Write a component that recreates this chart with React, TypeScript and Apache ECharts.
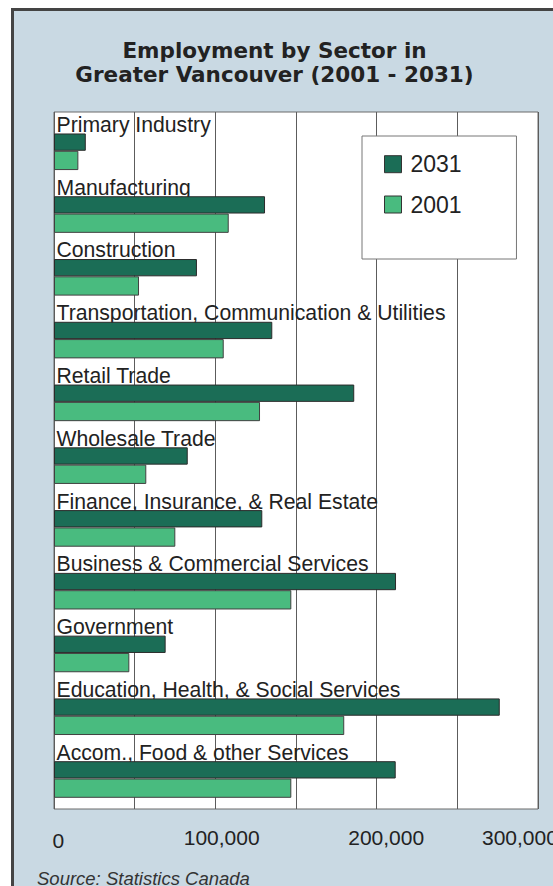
import React, { useEffect, useRef } from "react";
import * as echarts from "echarts";

const categories = [
  "Primary Industry",
  "Manufacturing",
  "Construction",
  "Transportation, Communication & Utilities",
  "Retail Trade",
  "Wholesale Trade",
  "Finance, Insurance, & Real Estate",
  "Business & Commercial Services",
  "Government",
  "Education, Health, & Social Services",
  "Accom., Food & other Services",
];

const values2031 = [19700, 130800, 88600, 135300, 186100, 82900, 129100, 212000, 69200, 276300, 211800];
const values2001 = [15100, 108300, 52700, 105200, 127700, 57200, 75200, 147100, 46700, 179900, 147100];

const tickLabels = ["0", "100,000", "200,000", "300,000"];

const AXIS_MAX = 300000;
const AXIS_INTERVAL = 50000;

// layout (pixels)
const tickLabelPos = [
  [58.3, 840],
  [221.7, 837.5],
  [386.2, 837.2],
  [519.9, 837.2],
];

export default function App() {
  const ref = useRef<HTMLDivElement>(null);

  useEffect(() => {
    if (!ref.current) return;
    const chart = echarts.init(ref.current, undefined, { renderer: "svg" });
    const font = "Liberation Sans";

    const option: any = {
      animation: false,
      graphic: [
        {
          type: "rect",
          z: -100,
          silent: true,
          shape: { x: 12.5, y: 9.5, width: 600, height: 900 },
          style: { fill: "#c9d9e3", stroke: "#444444", lineWidth: 3 },
        },
        {
          type: "text",
          z: 10,
          x: 274.5,
          y: 39,
          style: {
            text: "Employment by Sector in\nGreater Vancouver (2001 - 2031)",
            textAlign: "center",
            textVerticalAlign: "top",
            fontFamily: "DejaVu Sans",
            fontWeight: "bold",
            fontSize: 21.5,
            lineHeight: 23.6,
            fill: "#222222",
          },
        },
        ...tickLabels.map((t, i) => ({
          type: "text",
          z: 10,
          x: tickLabelPos[i][0],
          y: tickLabelPos[i][1],
          style: {
            text: t,
            textAlign: "center",
            textVerticalAlign: "middle",
            fontFamily: font,
            fontSize: 21,
            fill: "#222222",
          },
        })),
        {
          type: "text",
          z: 10,
          x: 37,
          y: 878,
          style: {
            text: "Source: Statistics Canada",
            textAlign: "left",
            textVerticalAlign: "middle",
            fontFamily: font,
            fontStyle: "italic",
            fontSize: 18.5,
            fill: "#333333",
          },
        },
      ],
      grid: [
        {
          left: 54,
          right: 15,
          top: 112,
          bottom: 77,
          show: true,
          backgroundColor: "#ffffff",
          borderColor: "#6a6a6a",
          borderWidth: 1,
        },
        {
          left: 54,
          right: 15,
          top: 107.3,
          height: 690.5,
        },
      ],
      xAxis: [
        {
          gridIndex: 0,
          type: "value",
          min: 0,
          max: AXIS_MAX,
          interval: AXIS_INTERVAL,
          axisLine: { show: false },
          axisTick: { show: false },
          axisLabel: { show: false },
          splitLine: { show: true, lineStyle: { color: "#5c5c5c", width: 1 } },
        },
        {
          gridIndex: 1,
          type: "value",
          min: 0,
          max: AXIS_MAX,
          show: false,
          splitLine: { show: false },
        },
      ],
      yAxis: [
        { gridIndex: 0, type: "value", show: false, splitLine: { show: false } },
        {
          gridIndex: 1,
          type: "category",
          data: categories,
          inverse: true,
          show: false,
        },
      ],
      legend: {
        data: ["2031", "2001"],
        orient: "vertical",
        left: 362,
        top: 136,
        padding: [16.2, 54.8, 42.5, 22],
        itemWidth: 17,
        itemHeight: 17,
        itemGap: 16.3,
        icon: "rect",
        backgroundColor: "#ffffff",
        borderColor: "#777777",
        borderWidth: 1,
        itemStyle: { borderColor: "#333333", borderWidth: 1 },
        textStyle: {
          fontFamily: font,
          fontSize: 23,
          lineHeight: 24,
          color: "#222222",
          padding: [0, 0, 0, 4],
        },
        selectedMode: false,
      },
      series: [
        {
          name: "_label",
          type: "bar",
          xAxisIndex: 1,
          yAxisIndex: 1,
          data: categories.map(() => AXIS_MAX),
          barWidth: 26.17,
          barGap: "0%",
          silent: true,
          z: 1,
          itemStyle: { color: "rgba(0,0,0,0)" },
          label: {
            show: true,
            position: "insideLeft",
            distance: 2.5,
            offset: [0, 4],
            formatter: "{b}",
            fontFamily: font,
            fontSize: 21.2,
            color: "#222222",
            textBorderWidth: 0,
          },
        },
        {
          name: "2031",
          type: "bar",
          xAxisIndex: 1,
          yAxisIndex: 1,
          data: values2031,
          barWidth: 17.3,
          barGap: "0%",
          z: 3,
          itemStyle: { color: "#1b6d56", borderColor: "#2b2b2b", borderWidth: 1 },
        },
        {
          name: "2001",
          type: "bar",
          xAxisIndex: 1,
          yAxisIndex: 1,
          data: values2001,
          barWidth: 19.3,
          barGap: "0%",
          z: 3,
          itemStyle: { color: "#49bb7f", borderColor: "#404040", borderWidth: 1 },
        },
      ],
    };

    chart.setOption(option);
    return () => chart.dispose();
  }, []);

  return (
    <div
      ref={ref}
      style={{ position: "absolute", left: 0, top: 0, width: 553, height: 886, background: "#ffffff" }}
    />
  );
}
